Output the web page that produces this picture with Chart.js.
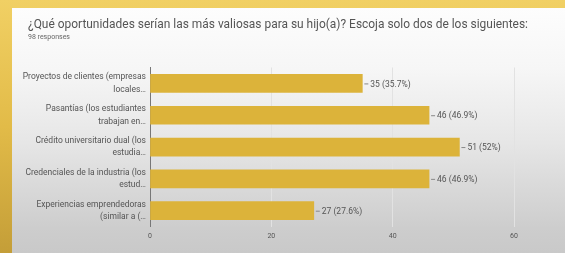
<!DOCTYPE html>
<html>
<head>
<meta charset="utf-8">
<script src="https://cdn.jsdelivr.net/npm/chart.js@4/dist/chart.umd.min.js"></script>
<style>
  html, body { margin: 0; padding: 0; }
  body {
    width: 565px; height: 253px; overflow: hidden; position: relative;
    background: linear-gradient(to bottom, #f1d064, #e2bb48 50%, #c49e38);
  }
  #panel {
    position: absolute; left: 12px; top: 8px; width: 553px; height: 245px;
    background: linear-gradient(to bottom, #fdfdfd 0%, #f6f6f6 25%, #e6e6e6 55%, #cdcdcd 90%, #c9c9c9 100%);
  }
  #wrap { position: absolute; left: 0; top: 0; width: 565px; height: 253px; }
</style>
</head>
<body>
<div id="panel"></div>
<div id="wrap"><canvas id="chart" width="565" height="253"></canvas></div>
<script>
// Datos de la encuesta (98 respuestas)
const categories = [
    ['Proyectos de clientes (empresas', 'locales…'],
    ['Pasantías (los estudiantes', 'trabajan en…'],
    ['Crédito universitario dual (los', 'estudia…'],
    ['Credenciales de la industria (los', 'estud…'],
    ['Experiencias emprendedoras', '(similar a (…']
];
const counts = [35, 46, 51, 46, 27];
const percents = ['35.7%', '46.9%', '52%', '46.9%', '27.6%'];
const xTicks = [0, 20, 40, 60];

// Etiquetas al final de cada barra: "- 35 (35.7%)"
const barLabels = {
    id: 'barLabels',
    afterLayout(chart) {
        // mover título y subtítulo un poco a la derecha
        chart.boxes.forEach(b => {
            if (b.position === 'top' && !b.axis) {
                b.left += 14;
                b.right += 14;
            }
        });
    },
    afterDatasetsDraw(chart) {
        const ctx = chart.ctx;
        const meta = chart.getDatasetMeta(0);
        ctx.save();
        ctx.font = '8.5px Roboto';
        ctx.fillStyle = '#555';
        ctx.strokeStyle = '#888';
        ctx.lineWidth = 1;
        ctx.textBaseline = 'middle';
        meta.data.forEach((bar, i) => {
            ctx.beginPath();
            ctx.moveTo(bar.x + 2, bar.y + 0.5);
            ctx.lineTo(bar.x + 6, bar.y + 0.5);
            ctx.stroke();
            ctx.fillText(counts[i] + ' (' + percents[i] + ')', bar.x + 8, bar.y + 1);
        });
        ctx.restore();
    }
};

const ctx = document.getElementById('chart').getContext('2d');
new Chart(ctx, {
    type: 'bar',
    data: {
        labels: categories,
        datasets: [{
            data: counts,
            backgroundColor: '#dcb33a',
            borderWidth: 0,
            barThickness: 18
        }]
    },
    options: {
        indexAxis: 'y',
        responsive: false,
        animation: false,
        layout: { padding: { left: 14, right: 51, top: 19, bottom: 8 } },
        plugins: {
            legend: { display: false },
            tooltip: { enabled: false },
            title: {
                display: true,
                align: 'start',
                text: '¿Qué oportunidades serían las más valiosas para su hijo(a)? Escoja solo dos de los siguientes:',
                color: '#555',
                font: { family: 'Roboto', size: 12.1, weight: 'normal', lineHeight: 1.0 },
                padding: { top: 0, bottom: 2 }
            },
            subtitle: {
                display: true,
                align: 'start',
                text: '98 responses',
                color: '#666',
                font: { family: 'Roboto', size: 7 },
                padding: { top: 0, bottom: 26 }
            }
        },
        scales: {
            x: {
                min: 0,
                max: 60,
                afterBuildTicks(scale) {
                    scale.ticks = xTicks.map(v => ({ value: v }));
                },
                grid: {
                    color: ctx => ctx.tick && ctx.tick.value === 0 ? 'rgba(0,0,0,0)' : '#e2e2e2',
                    drawTicks: false
                },
                border: { display: false },
                ticks: {
                    color: '#555',
                    font: { family: 'Roboto', size: 7 },
                    padding: 5
                }
            },
            y: {
                afterFit(scale) { scale.width = 136; },
                grid: { display: false, drawTicks: false },
                border: { display: true, color: '#777', width: 1 },
                ticks: {
                    color: '#555',
                    font: { family: 'Roboto', size: 8.5, lineHeight: 1.45 },
                    padding: 4
                }
            }
        }
    },
    plugins: [barLabels]
});
</script>
</body>
</html>
